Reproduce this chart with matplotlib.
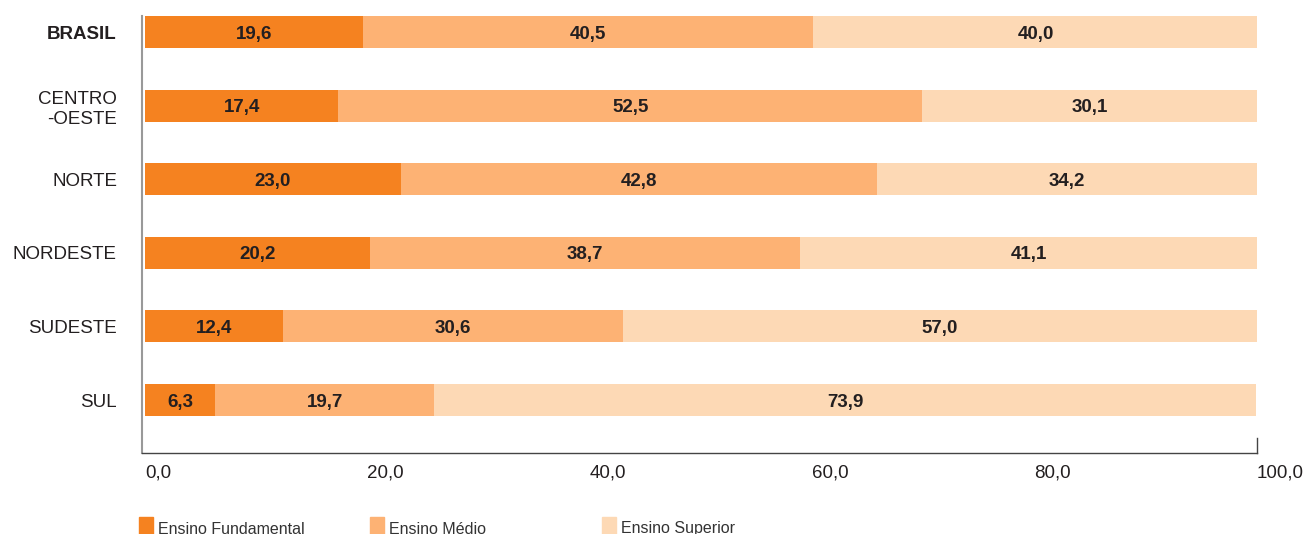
import matplotlib
matplotlib.use("Agg")
import matplotlib.pyplot as plt
import numpy as np

plt.rcParams["font.family"] = ["Liberation Sans", "DejaVu Sans"]

regions = ["BRASIL", "CENTRO\n-OESTE", "NORTE", "NORDESTE", "SUDESTE", "SUL"]
fundamental = [19.6, 17.4, 23.0, 20.2, 12.4, 6.3]
medio = [40.5, 52.5, 42.8, 38.7, 30.6, 19.7]
superior = [40.0, 30.1, 34.2, 41.1, 57.0, 73.9]
series_names = ["Ensino Fundamental", "Ensino Médio", "Ensino Superior"]
xticks = [0, 20, 40, 60, 80, 100]

colors = ["#F58220", "#FDB274", "#FDD9B5"]
TXT = "#231F20"

fig = plt.figure(figsize=(13.07, 5.34), dpi=100)
ax = fig.add_axes([142 / 1307, 1 - 453 / 534, (1257 - 142) / 1307, (453 - 16) / 534])

y = np.arange(len(regions))
h = 0.435
left = np.zeros(len(regions))
for vals, col in zip([fundamental, medio, superior], colors):
    vals = np.array(vals)
    ax.barh(y, vals, height=h, left=left, color=col, edgecolor="none")
    for yi, l, v in zip(y, left, vals):
        ax.text(l + v / 2, yi, f"{v:.1f}".replace(".", ","), ha="center",
                va="center_baseline", fontsize=13.5, fontweight="bold", color=TXT)
    left = left + vals

ax.set_xlim(-0.27, 100)
ax.set_ylim(5.72, -0.22)

ax.set_yticks(y)
ax.set_yticklabels(regions, fontsize=13.5, color=TXT, linespacing=1.25)
ax.get_yticklabels()[0].set_fontweight("bold")
ax.tick_params(axis="y", length=0, pad=18)

ax.set_xticks(xticks)
ax.set_xticklabels([f"{t:.1f}".replace(".", ",") for t in xticks],
                   fontsize=13.5, color=TXT, ha="left")
ax.tick_params(axis="x", length=0, pad=8)

ax.spines["top"].set_visible(False)
ax.spines["left"].set_color("#999999")
ax.spines["left"].set_linewidth(1.5)
ax.spines["bottom"].set_color("#444444")
ax.spines["bottom"].set_linewidth(1.0)
ax.spines["right"].set_color("#444444")
ax.spines["right"].set_linewidth(1.0)
ax.spines["right"].set_bounds(5.52, 5.72)

# legend
leg_x = [139, 370, 602]
for px, name, col in zip(leg_x, series_names, colors):
    fig.patches.append(plt.Rectangle((px / 1307, 0), 14 / 1307, 17 / 534,
                                     transform=fig.transFigure, color=col))
    fig.text((px + 19) / 1307, 1 - 529 / 534, name, fontsize=11.5, color="#333333",
             va="center", ha="left")

fig.savefig("out.png", dpi=100)
